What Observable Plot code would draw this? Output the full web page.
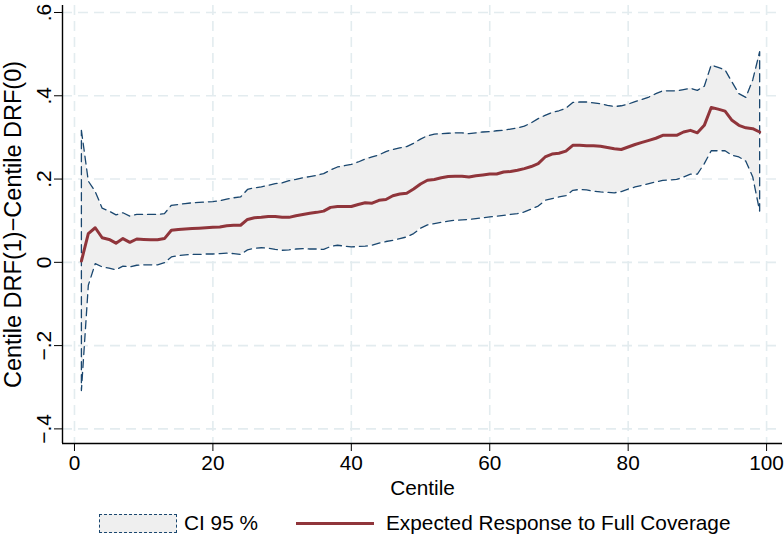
<!DOCTYPE html>
<html>
<head>
<meta charset="utf-8">
<script src="https://cdn.jsdelivr.net/npm/d3@7"></script>
<script src="https://cdn.jsdelivr.net/npm/@observablehq/plot@0.6"></script>
<style>
  html, body { margin: 0; padding: 0; background: #fff; }
  #wrap { position: relative; width: 784px; height: 541px; font-family: "Liberation Sans", Arial, sans-serif; }
  #legend { position: absolute; left: 0; top: 508px; width: 784px; height: 30px; }
  .lg-item { position: absolute; top: 0; display: flex; align-items: center; height: 30px; font-size: 20.8px; color: #000; white-space: nowrap; }
  .swatch-box { width: 78px; height: 19px; background: #efefef; box-sizing: border-box; border: 1.3px dashed #1a476f; margin-right: 7px; }
  .swatch-line { width: 78px; height: 3px; background: #90353b; margin-right: 12px; }
</style>
</head>
<body>
<div id="wrap">
  <div id="chart"></div>
  <div id="legend">
    <div class="lg-item" style="left:99px"><div class="swatch-box"></div><span>CI 95 %</span></div>
    <div class="lg-item" style="left:296px"><div class="swatch-line"></div><span>Expected Response to Full Coverage</span></div>
  </div>
</div>
<script>
// Centiles 1..99
const centiles = d3.range(1, 100);

const upper = [
  0.317, 0.195, 0.170, 0.130, 0.123, 0.114, 0.119, 0.111, 0.115, 0.115,
  0.115, 0.115, 0.117, 0.137, 0.139, 0.141, 0.143, 0.144, 0.145, 0.146,
  0.148, 0.152, 0.155, 0.157, 0.175, 0.179, 0.181, 0.185, 0.189, 0.191,
  0.196, 0.199, 0.203, 0.206, 0.209, 0.213, 0.222, 0.229, 0.232, 0.235,
  0.241, 0.248, 0.253, 0.258, 0.266, 0.271, 0.275, 0.278, 0.286, 0.296,
  0.304, 0.308, 0.309, 0.310, 0.311, 0.311, 0.309, 0.311, 0.313, 0.314,
  0.316, 0.317, 0.320, 0.323, 0.327, 0.335, 0.345, 0.353, 0.360, 0.364,
  0.370, 0.384, 0.385, 0.385, 0.383, 0.381, 0.377, 0.374, 0.376, 0.380,
  0.386, 0.391, 0.397, 0.405, 0.412, 0.412, 0.412, 0.415, 0.418, 0.413,
  0.423, 0.474, 0.468, 0.462, 0.433, 0.405, 0.396, 0.438, 0.506
];

const mean = [
  0.003, 0.069, 0.083, 0.059, 0.055, 0.046, 0.057, 0.048, 0.056, 0.055,
  0.054, 0.054, 0.057, 0.077, 0.079, 0.080, 0.081, 0.082, 0.083, 0.084,
  0.085, 0.088, 0.089, 0.089, 0.103, 0.107, 0.108, 0.110, 0.110, 0.108,
  0.108, 0.112, 0.115, 0.118, 0.120, 0.123, 0.132, 0.134, 0.134, 0.134,
  0.139, 0.143, 0.142, 0.149, 0.151, 0.160, 0.164, 0.166, 0.176, 0.188,
  0.197, 0.199, 0.203, 0.206, 0.207, 0.207, 0.205, 0.208, 0.210, 0.212,
  0.212, 0.217, 0.218, 0.221, 0.225, 0.230, 0.237, 0.253, 0.260, 0.262,
  0.267, 0.281, 0.281, 0.280, 0.280, 0.279, 0.276, 0.273, 0.271, 0.277,
  0.283, 0.288, 0.293, 0.298, 0.305, 0.305, 0.305, 0.313, 0.317, 0.311,
  0.329, 0.372, 0.368, 0.363, 0.341, 0.329, 0.323, 0.321, 0.313
];

const lower = [
  -0.308, -0.055, -0.003, -0.011, -0.014, -0.018, -0.009, -0.011, -0.007, -0.006,
  -0.006, -0.006, -0.001, 0.013, 0.016, 0.018, 0.019, 0.019, 0.020, 0.020,
  0.021, 0.022, 0.021, 0.019, 0.030, 0.034, 0.035, 0.034, 0.031, 0.029,
  0.030, 0.032, 0.033, 0.032, 0.032, 0.031, 0.038, 0.041, 0.039, 0.037,
  0.038, 0.039, 0.041, 0.046, 0.050, 0.053, 0.057, 0.061, 0.069, 0.082,
  0.090, 0.093, 0.096, 0.099, 0.101, 0.102, 0.103, 0.105, 0.107, 0.109,
  0.111, 0.113, 0.115, 0.117, 0.121, 0.128, 0.135, 0.149, 0.153, 0.157,
  0.160, 0.173, 0.175, 0.174, 0.171, 0.169, 0.168, 0.167, 0.170, 0.176,
  0.181, 0.185, 0.189, 0.193, 0.197, 0.198, 0.199, 0.205, 0.212, 0.212,
  0.237, 0.268, 0.268, 0.268, 0.257, 0.253, 0.243, 0.205, 0.123
];

const xTicks = [0, 20, 40, 60, 80, 100];
const yTicks = [-0.4, -0.2, 0, 0.2, 0.4, 0.6];

const xTitle = "Centile";
const yTitle = "Centile DRF(1)\u2212Centile DRF(0)";

const rows = centiles.map((c, i) => ({c, lo: lower[i], hi: upper[i], m: mean[i]}));
// closed outline of the CI polygon (upper forward, lower backward)
const outline = [
  ...rows.map(r => ({c: r.c, v: r.hi})),
  ...rows.slice().reverse().map(r => ({c: r.c, v: r.lo})),
  {c: rows[0].c, v: rows[0].hi}
];

const xDomain = [-1.73, 102.3];
const yDomain = [-0.4351, 0.6168];

const fmtY = d => d === 0 ? "0" : (d < 0 ? "\u2212" : "") + String(Math.abs(+d.toFixed(1))).replace(/^0/, "");

const font = "'Liberation Sans', Arial, sans-serif";

const gridStyle = {stroke: "#e3ecef", strokeOpacity: 1, strokeWidth: 1.6, strokeDasharray: "10,6"};

const chart = Plot.plot({
  width: 784,
  height: 500,
  marginLeft: 62,
  marginRight: 2,
  marginTop: 5,
  marginBottom: 57,
  style: {fontFamily: font, fontSize: "20.8px", background: "white", color: "black"},
  x: {domain: xDomain, ticks: xTicks},
  y: {domain: yDomain, ticks: yTicks},
  marks: [
    Plot.gridX(xTicks, gridStyle),
    Plot.gridY(yTicks, gridStyle),
    Plot.areaY(rows, {x: "c", y1: "lo", y2: "hi", fill: "#efefef", curve: "linear"}),
    Plot.line(outline, {x: "c", y: "v", stroke: "#1a476f", strokeWidth: 1.3, strokeDasharray: "8,5", curve: "linear"}),
    Plot.line(rows, {x: "c", y: "m", stroke: "#90353b", strokeWidth: 3, curve: "linear"}),
    Plot.ruleY([yDomain[0]], {stroke: "black", strokeWidth: 1.4}),
    Plot.ruleX([xDomain[0]], {stroke: "black", strokeWidth: 1.4}),
    Plot.axisX(xTicks, {tickSize: 8, tickPadding: 4, fontSize: 20.8, label: null, tickFormat: d => String(d)}),
    Plot.axisY(yTicks, {tickSize: 8, tickPadding: 4, fontSize: 21, tickRotate: -90, label: null, tickFormat: fmtY}),
    Plot.text([xTitle], {frameAnchor: "bottom", dy: 45, fontSize: 20.8, text: d => d, lineAnchor: "middle", textAnchor: "middle"}),
    Plot.text([yTitle], {frameAnchor: "left", dx: -49, rotate: -90, fontSize: 23.5, text: d => d, textAnchor: "middle", lineAnchor: "middle"})
  ]
});
document.getElementById("chart").appendChild(chart);
</script>
</body>
</html>
